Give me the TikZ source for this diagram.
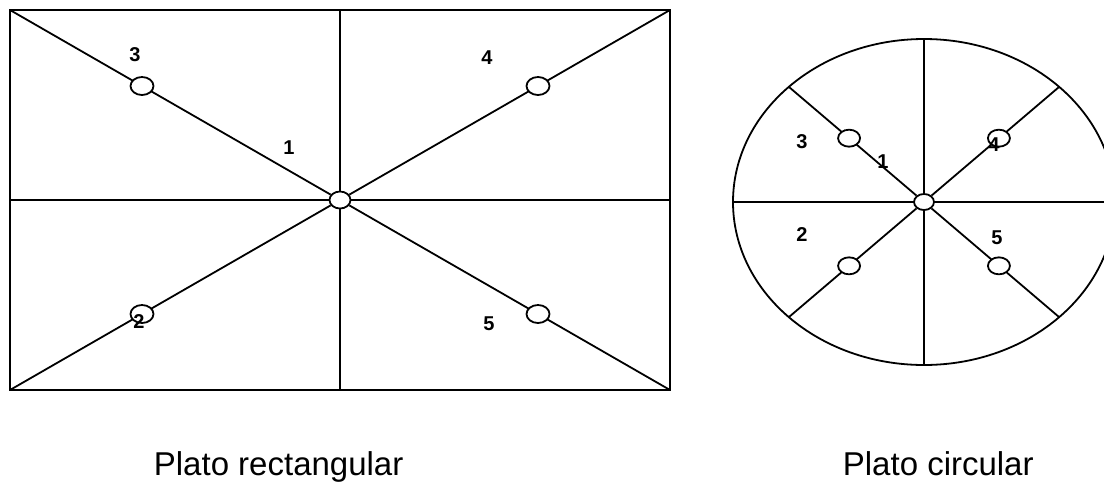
\documentclass[tikz,border=0pt]{standalone}
\usepackage{fontspec}
\setmainfont{Liberation Sans}
\usetikzlibrary{shapes.geometric,calc}
\begin{document}
\begin{tikzpicture}[x=1pt,y=-1pt,line width=1.8pt,
  hole/.style={ellipse,draw,fill=white,inner sep=0pt,minimum width=23pt,minimum height=18pt},
  num/.style={font=\fontsize{20}{22}\selectfont\bfseries,inner sep=0pt},
  platecap/.style={font=\fontsize{33}{38}\selectfont,anchor=base west,inner sep=0pt}]
\useasboundingbox (0,0) rectangle (1104,483);
% plato rectangular
\draw (10,10) coordinate (nw) rectangle (670,390) coordinate (se);
\coordinate (ne) at (670,10); \coordinate (sw) at (10,390);
\draw (340,10)--(340,390) (10,200)--(670,200);
\node[hole,minimum width=21pt,minimum height=17pt] (rc) at (340,200) {};
\foreach \c in {nw,ne,sw,se}{\draw (rc)--(\c);}
\foreach \c/\n in {nw/3,ne/4,sw/2,se/5}{\node[hole] (r\n) at ($(rc)!0.6!(\c)$) {};}
\foreach \n/\x/\y in {3/135/55,1/289/148,4/487/58,2/139/322,5/489/324}{\node[num] (rl\n) at (\x,\y) {\n};}
% plato circular
\coordinate (cc) at (924,202);
\draw (cc) ellipse [x radius=191,y radius=163];
\draw (924,39)--(924,365) (733,202)--(1115,202);
\coordinate (cnw) at (789,87); \coordinate (cne) at (1059,87);
\coordinate (csw) at (789,317); \coordinate (cse) at (1059,317);
\node[hole,minimum width=20pt,minimum height=16pt] (cm) at (cc) {};
\foreach \c in {cnw,cne,csw,cse}{\draw (cm)--(\c);}
\foreach \c/\n in {cnw/3,cne/4,csw/2,cse/5}{\node[hole,minimum width=22pt,minimum height=17pt] (c\n) at ($(cc)!0.555!(\c)$) {};}
\foreach \n/\x/\y in {3/802/142,1/883/162,4/994/145,2/802/235,5/997/238}{\node[num] (cl\n) at (\x,\y) {\n};}
% rotulos
\node[platecap] (caprect) at (153,475) {Plato rectangular};
\node[platecap] (capcirc) at (842,475) {Plato circular};
\end{tikzpicture}
\end{document}
